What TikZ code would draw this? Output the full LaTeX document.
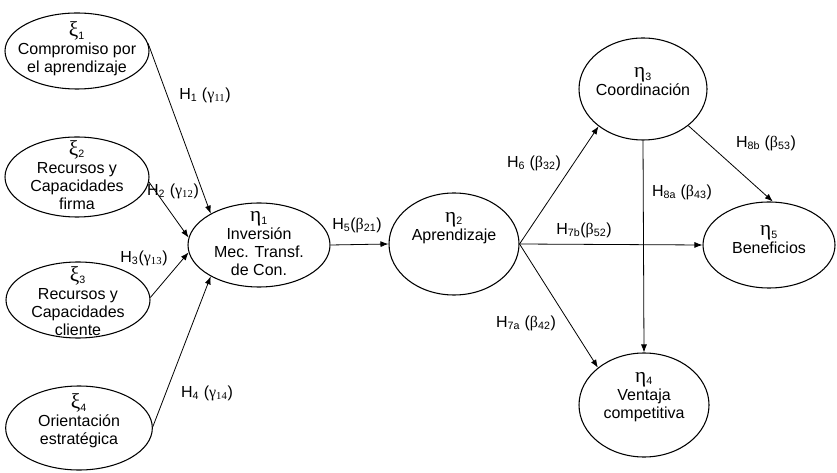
\documentclass[tikz,border=0pt]{standalone}
\usepackage{fontspec}
\setmainfont{Liberation Sans}
\newfontfamily\grk{Liberation Serif}
\usetikzlibrary{arrows.meta,shapes.geometric}
\newcommand\gsym[2]{{\grk\fontsize{16}{16}\selectfont #1}\textsubscript{#2}}
\newcommand\gsm[2]{{\grk #1\textsubscript{#2}}}
\begin{document}
\begin{tikzpicture}[x=0.75pt,y=-0.75pt,
  lat/.style={draw,ellipse,inner sep=0pt,line width=0.8pt},
  txt/.style={align=center,font=\fontsize{12}{13.5}\selectfont,inner sep=0pt},
  hyp/.style={font=\fontsize{12}{14}\selectfont,inner sep=0pt},
  arr/.style={-{Latex[length=6pt,width=4.5pt]},line width=0.6pt}]
\useasboundingbox (0,0) rectangle (837,473);
% ellipses
\node[lat,minimum width=108pt,minimum height=57pt] (xi1) at (77,51) {};
\node[lat,minimum width=108pt,minimum height=60pt] (xi2) at (77,177) {};
\node[lat,minimum width=108pt,minimum height=57pt] (xi3) at (78,300) {};
\node[lat,minimum width=110pt,minimum height=63pt] (xi4) at (79,428) {};
\node[lat,minimum width=106.5pt,minimum height=63pt] (eta1) at (259,245) {};
\node[lat,minimum width=97.5pt,minimum height=76.5pt] (eta2) at (454,244) {};
\node[lat,minimum width=96pt,minimum height=76.5pt] (eta3) at (643,89) {};
\node[lat,minimum width=97.5pt,minimum height=78pt] (eta4) at (644,405) {};
\node[lat,minimum width=99pt,minimum height=64.5pt] (eta5) at (769,245) {};
% texts
\node[txt] (t1) at (77,49) {\gsym{ξ}{1}\\Compromiso por\\el aprendizaje};
\node[txt] (t2) at (77,175) {\gsym{ξ}{2}\\Recursos y\\Capacidades\\firma};
\node[txt] (t3) at (78,301) {\gsym{ξ}{3}\\Recursos y\\Capacidades\\cliente};
\node[txt] (t4) at (79,421) {\gsym{ξ}{4}\\Orientación\\estratégica};
\node[txt] (s1) at (259,244) {\gsym{η}{1}\\Inversión\\Mec. Transf.\\de Con.};
\node[txt] (s2) at (454,228) {\gsym{η}{2}\\Aprendizaje};
\node[txt] (s3) at (643,82) {\gsym{η}{3}\\Coordinación};
\node[txt] (s4) at (644,397) {\gsym{η}{4}\\Ventaja\\competitiva};
\node[txt] (s5) at (769,240) {\gsym{η}{5}\\Beneficios};
% connectors
\draw[arr] (xi1.6) -- (eta1.147);
\draw[arr] (xi2.356) -- (eta1.174);
\draw[arr] (xi3.2) -- (eta1.186);
\draw[arr] (xi4.1) -- (eta1.213);
\draw[arr] (eta1.east) -- (eta2.west);
\draw[arr] (eta2.east) -- (eta3.220);
\draw[arr] (eta2.east) -- (eta5.west);
\draw[arr] (eta2.east) -- (eta4.141);
\draw[arr] (eta3.south) -- (eta4.north);
\draw[arr] (eta3.321) -- (eta5.85);
% hypothesis labels
\node[hyp] (h1) at (205,95) {H\textsubscript{1} (\gsm{γ}{11})};
\node[hyp] (h2) at (173,191) {H\textsubscript{2} (\gsm{γ}{12})};
\node[hyp] (h3) at (144,258) {H\textsubscript{3}(\gsm{γ}{13})};
\node[hyp] (h4) at (207,393) {H\textsubscript{4} (\gsm{γ}{14})};
\node[hyp] (h5) at (357,225) {H\textsubscript{5}({\grk β}\textsubscript{21})};
\node[hyp] (h6) at (534,163) {H\textsubscript{6} ({\grk β}\textsubscript{32})};
\node[hyp] (h8b) at (766,143) {H\textsubscript{8b} ({\grk β}\textsubscript{53})};
\node[hyp] (h8a) at (682,192) {H\textsubscript{8a} ({\grk β}\textsubscript{43})};
\node[hyp] (h7b) at (584,230) {H\textsubscript{7b}({\grk β}\textsubscript{52})};
\node[hyp] (h7a) at (526,323) {H\textsubscript{7a} ({\grk β}\textsubscript{42})};
\end{tikzpicture}
\end{document}
